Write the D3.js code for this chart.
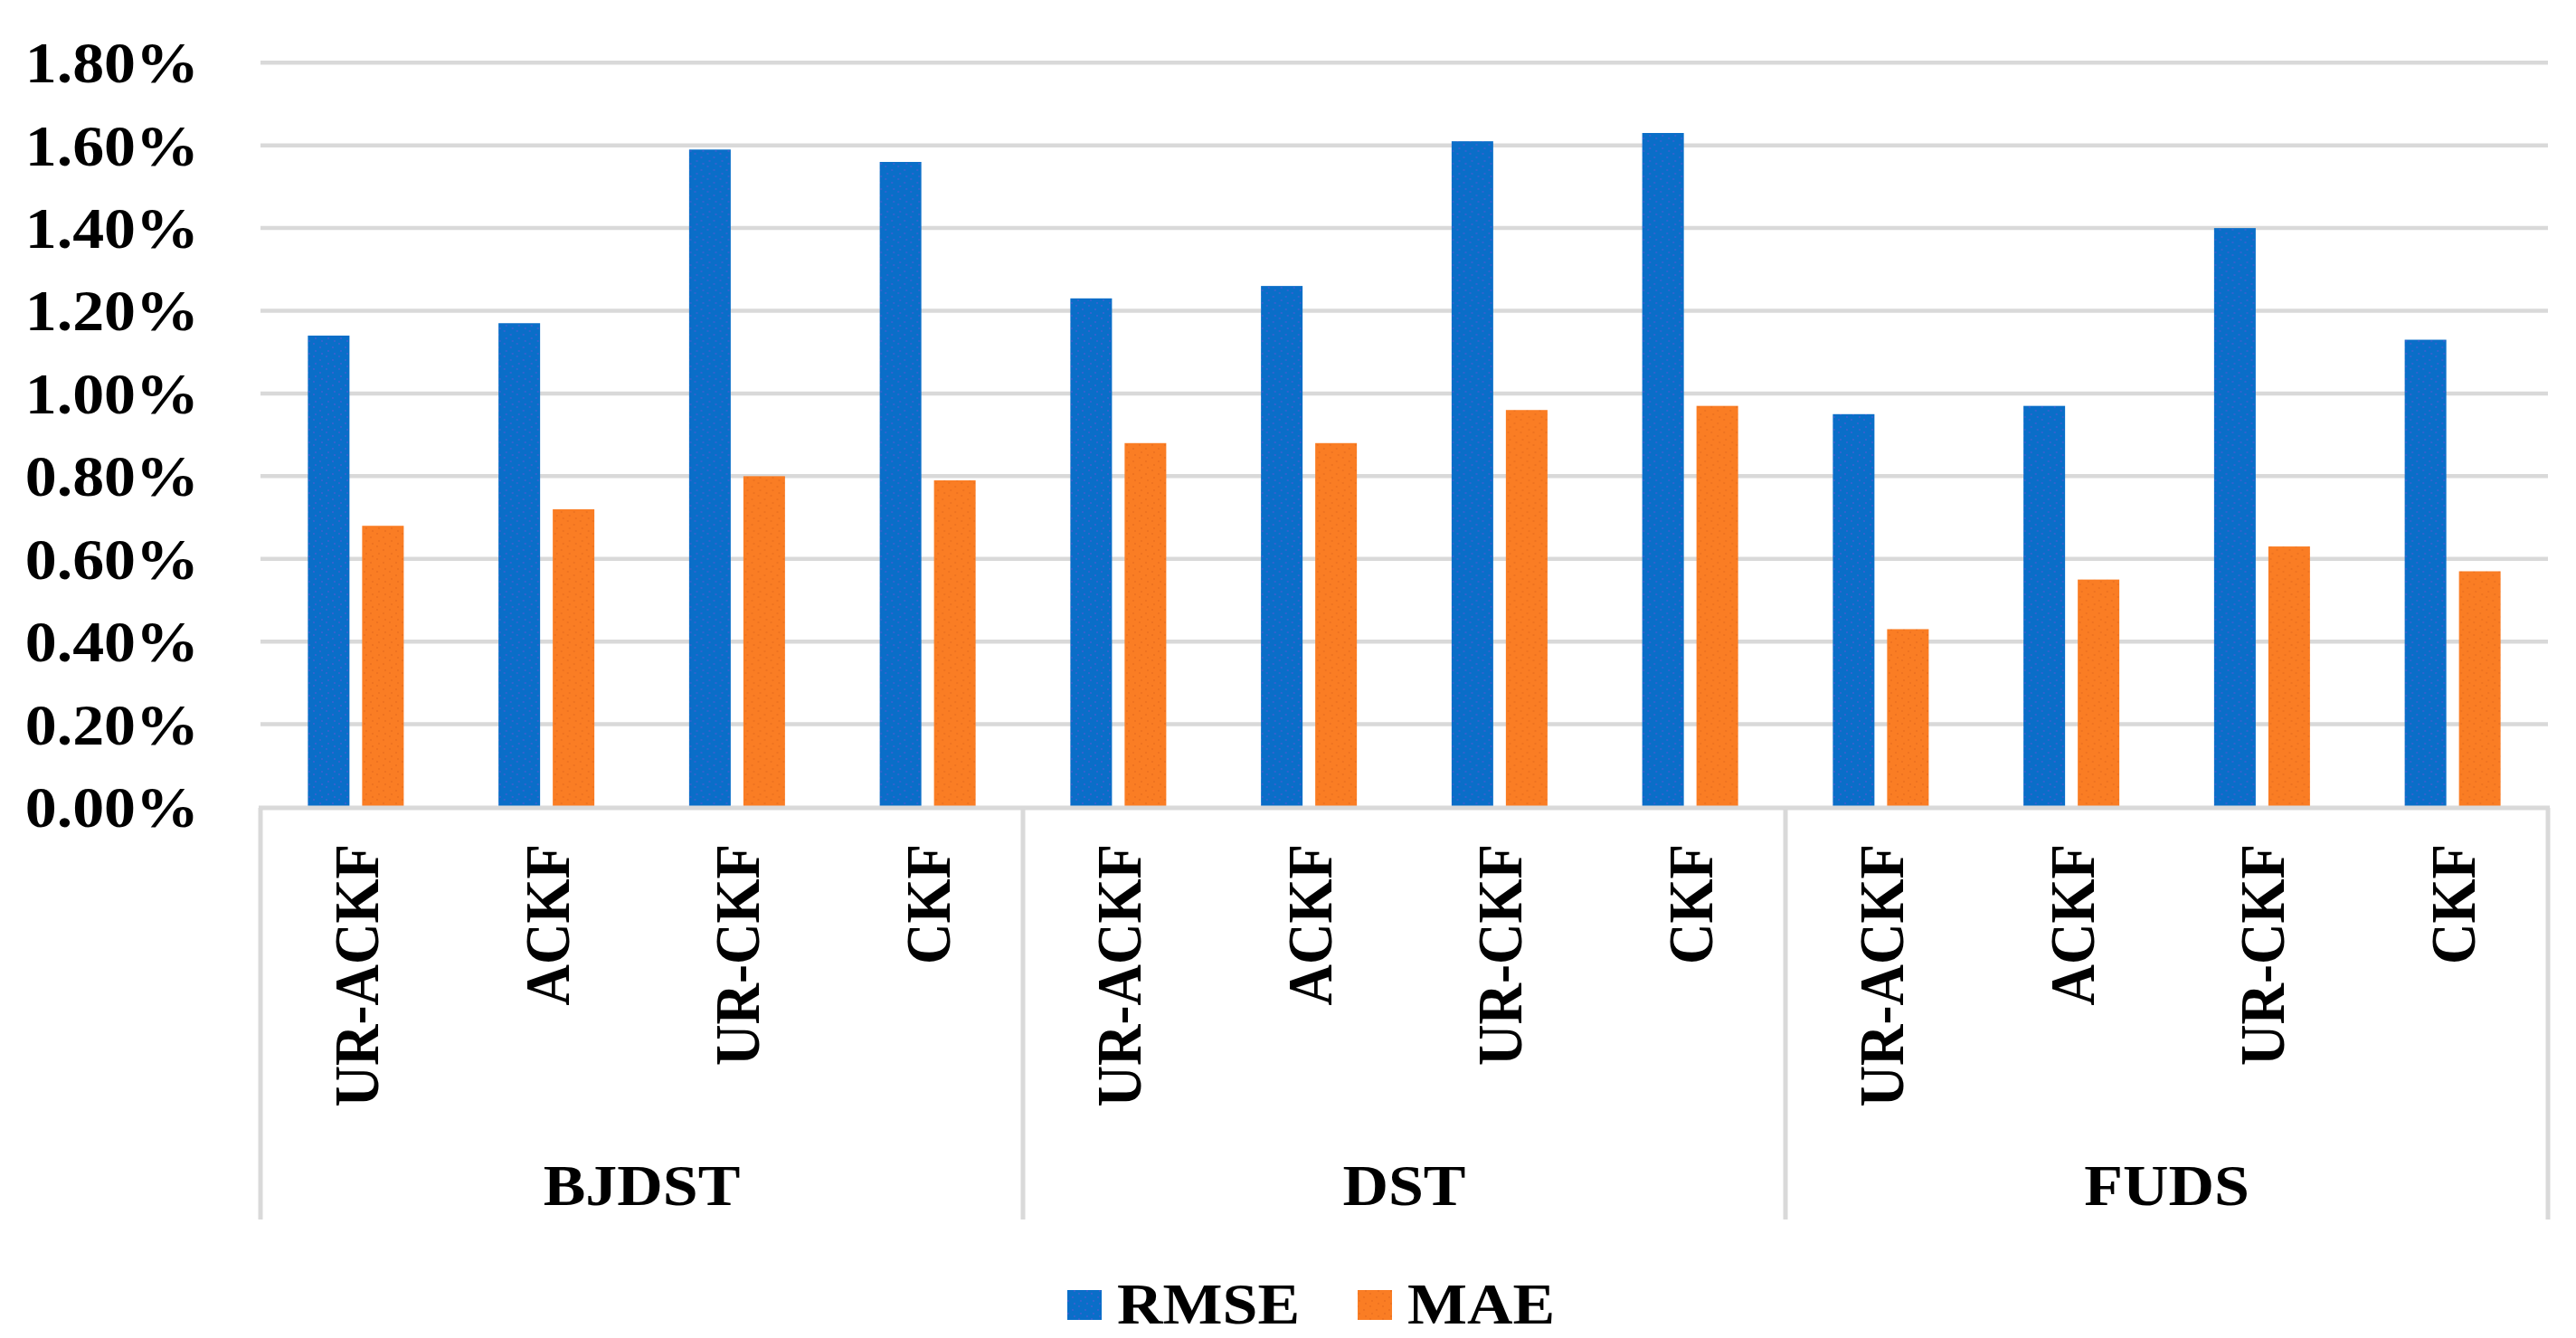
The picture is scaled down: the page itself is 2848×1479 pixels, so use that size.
<!DOCTYPE html>
<html>
<head>
<meta charset="utf-8">
<script src="https://cdn.jsdelivr.net/npm/d3@7"></script>
<style>
  html, body { margin: 0; padding: 0; background: #ffffff; }
  svg { display: block; }
</style>
</head>
<body>
<svg id="chart" width="2848" height="1479"></svg>
<script>
// ---------------- data ----------------
const groups = ["BJDST", "DST", "FUDS"];
const methods = ["UR-ACKF", "ACKF", "UR-CKF", "CKF"];
const seriesNames = ["RMSE", "MAE"];
// values in percent, in order BJDST(4), DST(4), FUDS(4)
const rmseValues = [1.14, 1.17, 1.59, 1.56, 1.23, 1.26, 1.61, 1.63, 0.95, 0.97, 1.40, 1.13];
const maeValues  = [0.68, 0.72, 0.80, 0.79, 0.88, 0.88, 0.96, 0.97, 0.43, 0.55, 0.63, 0.57];
const yTickValues = [0, 0.2, 0.4, 0.6, 0.8, 1.0, 1.2, 1.4, 1.6, 1.8];

// ---------------- layout / style ----------------
const W = 2848, H = 1479;
const plotLeft = 288, plotRight = 2817, plotTop = 69.3, plotBottom = 892;
const sepBottom = 1348;
const FONT = "'Liberation Serif', 'Times New Roman', Times, serif";
const FS = 63;
const STRETCH = 1.11;
const colors = { RMSE: "#0a6ec8", MAE: "#fa7d24" };
const gridColor = "#d9d9d9";

const svg = d3.select("#chart");

// patterns (slight dotted texture seen in the reference)
const defs = svg.append("defs");
function makePattern(id, base, dot) {
  const p = defs.append("pattern").attr("id", id).attr("patternUnits", "userSpaceOnUse")
    .attr("width", 14).attr("height", 14);
  p.append("rect").attr("width", 14).attr("height", 14).attr("fill", base);
  [[3, 2], [10, 6], [5, 10], [12, 13]].forEach(([cx, cy]) => {
    p.append("circle").attr("cx", cx).attr("cy", cy).attr("r", 0.9).attr("fill", dot).attr("opacity", 0.55);
  });
}
makePattern("patRMSE", colors.RMSE, "#7a4fd8");
makePattern("patMAE", colors.MAE, "#d8601a");
const fills = { RMSE: "url(#patRMSE)", MAE: "url(#patMAE)" };

// categories
const cats = [];
groups.forEach((g, gi) => methods.forEach((m, mi) => {
  const i = gi * methods.length + mi;
  cats.push({ id: g + "|" + m, group: g, method: m, RMSE: rmseValues[i], MAE: maeValues[i] });
}));

const x0 = d3.scaleBand().domain(cats.map(d => d.id)).range([plotLeft, plotRight]).paddingInner(0).paddingOuter(0);
const bw = x0.bandwidth();
// inner band: bar width 46, gap 14
const step = 60, pIn = 14 / 60;
const pOut = (bw / step - (2 - pIn)) / 2;
const x1 = d3.scaleBand().domain(seriesNames).range([0, bw]).paddingInner(pIn).paddingOuter(pOut);

const y = d3.scaleLinear().domain([0, 1.8]).range([plotBottom, plotTop]);

// gridlines
svg.append("g").selectAll("line").data(yTickValues.filter(v => v > 0)).join("line")
  .attr("x1", plotLeft).attr("x2", plotRight)
  .attr("y1", d => y(d)).attr("y2", d => y(d))
  .attr("stroke", gridColor).attr("stroke-width", 4.5);

// y axis labels via d3 axis
const yAxis = d3.axisLeft(y).tickValues(yTickValues).tickSize(0).tickFormat(d => d.toFixed(2) + "%");
const yg = svg.append("g").attr("transform", `translate(${plotLeft},0)`).call(yAxis);
yg.select(".domain").remove();
yg.selectAll("text")
  .attr("x", 0).attr("dy", "0.34em")
  .attr("text-anchor", "end")
  .attr("transform", `translate(${220 - plotLeft},0) scale(${STRETCH},1)`)
  .attr("font-family", FONT).attr("font-weight", "bold").attr("font-size", FS).attr("fill", "#000");

// bars
const barG = svg.append("g");
const catG = barG.selectAll("g").data(cats).join("g").attr("transform", d => `translate(${x0(d.id)},0)`);
catG.selectAll("rect").data(d => seriesNames.map(s => ({ s, v: d[s] }))).join("rect")
  .attr("x", d => x1(d.s)).attr("width", x1.bandwidth())
  .attr("y", d => y(d.v)).attr("height", d => y(0) - y(d.v))
  .attr("fill", d => fills[d.s]);

// base axis line
svg.append("line").attr("x1", plotLeft - 2).attr("x2", plotRight + 2)
  .attr("y1", y(0) + 1).attr("y2", y(0) + 1)
  .attr("stroke", gridColor).attr("stroke-width", 5);

// group separators
const groupEdges = groups.map((g, gi) => x0(g + "|" + methods[0])).concat([plotRight]);
svg.append("g").selectAll("line").data(groupEdges).join("line")
  .attr("x1", d => d).attr("x2", d => d)
  .attr("y1", y(0) + 1).attr("y2", sepBottom)
  .attr("stroke", gridColor).attr("stroke-width", 5);

// category labels (rotated)
svg.append("g").selectAll("text").data(cats).join("text")
  .attr("transform", d => `translate(${x0(d.id) + bw / 2},933) scale(${STRETCH},1) rotate(-90)`)
  .attr("x", 0).attr("dy", "0.35em")
  .attr("text-anchor", "end")
  .attr("font-family", FONT).attr("font-weight", "bold").attr("font-size", FS).attr("fill", "#000")
  .text(d => d.method);

// group labels
svg.append("g").selectAll("text").data(groups).join("text")
  .attr("transform", (g, gi) => `translate(${(groupEdges[gi] + groupEdges[gi + 1]) / 2},1332) scale(${STRETCH},1)`)
  .attr("text-anchor", "middle")
  .attr("font-family", FONT).attr("font-weight", "bold").attr("font-size", FS).attr("fill", "#000")
  .text(d => d);

// legend
const legendItems = [
  { name: "RMSE", sx: 1180, tx: 1235 },
  { name: "MAE", sx: 1501, tx: 1556 }
];
const lg = svg.append("g");
lg.selectAll("rect").data(legendItems).join("rect")
  .attr("x", d => d.sx).attr("y", 1426).attr("width", 38).attr("height", 33)
  .attr("fill", d => fills[d.name]);
lg.selectAll("text").data(legendItems).join("text")
  .attr("transform", d => `translate(${d.tx},1463) scale(${STRETCH},1)`)
  .attr("font-family", FONT).attr("font-weight", "bold").attr("font-size", FS).attr("fill", "#000")
  .text(d => d.name);
</script>
</body>
</html>
